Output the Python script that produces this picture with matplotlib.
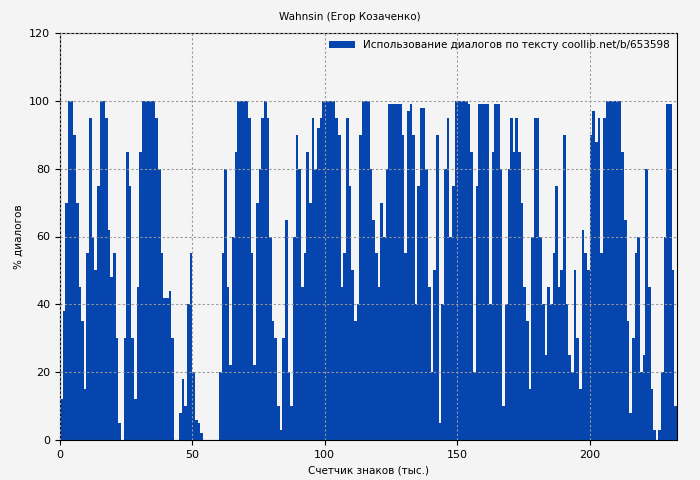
import matplotlib
matplotlib.use("Agg")
import matplotlib.pyplot as plt

values = [
12,38,70,100,100,90,70,45,35,15, 55,95,60,50,75,100,100,95,62,48,
55,30,5,0,30,85,75,30,12,45, 85,100,100,100,100,100,95,80,55,42,
42,44,30,0,0,8,18,10,40,55, 20,6,5,2,0,0,0,0,0,0,
20,55,80,45,22,60,85,100,100,100, 100,95,55,22,70,80,95,100,95,60,
35,30,10,3,30,65,20,10,60,90, 80,45,55,85,70,95,80,92,95,100,
100,100,100,100,95,90,45,55,95,75, 50,35,40,90,100,100,100,80,65,55,
45,70,60,80,99,99,99,99,99,90, 55,97,99,90,40,75,98,98,80,45,
20,50,90,5,40,80,95,60,75,100, 100,100,100,100,99,85,20,75,99,99,
99,99,40,85,99,99,80,10,40,80, 95,85,95,85,70,45,35,15,60,95,
95,60,40,25,45,40,55,75,45,50, 90,40,25,20,50,30,15,62,55,50,
90,97,88,95,55,95,100,100,100,100, 100,100,85,65,35,8,30,55,60,20,
25,80,45,15,3,0,3,20,60,99, 99,50,10,
]
positions = list(range(len(values)))

fig = plt.figure(figsize=(7, 4.8), dpi=100, facecolor="#f4f4f4")
ax = fig.add_axes([60/700, 40/480, 617/700, 407/480])
ax.set_facecolor("#f4f4f4")
ax.bar(positions, values, width=1.0, align="edge", color="#0645ad",
       linewidth=0, label="Использование диалогов по тексту coollib.net/b/653598")
ax.set_xlim(0, 233)
ax.set_ylim(0, 120)
ax.set_yticks(range(0, 121, 20))
ax.set_xticks(range(0, 201, 50))
ax.grid(True, color="#999999", linestyle=(0, (2, 2)), linewidth=0.8)
ax.set_axisbelow(False)
ax.tick_params(labelsize=8)
ax.set_xlabel("Счетчик знаков (тыс.)", fontsize=7.5)
ax.set_ylabel("% диалогов", fontsize=7.5)
fig.suptitle("Wahnsin (Егор Козаченко)", fontsize=7.5, y=0.975)
leg = ax.legend(loc="upper right", fontsize=7.5, frameon=False, handlelength=2.5,
                borderaxespad=0.3)
fig.savefig("out.png", dpi=100, facecolor=fig.get_facecolor())
